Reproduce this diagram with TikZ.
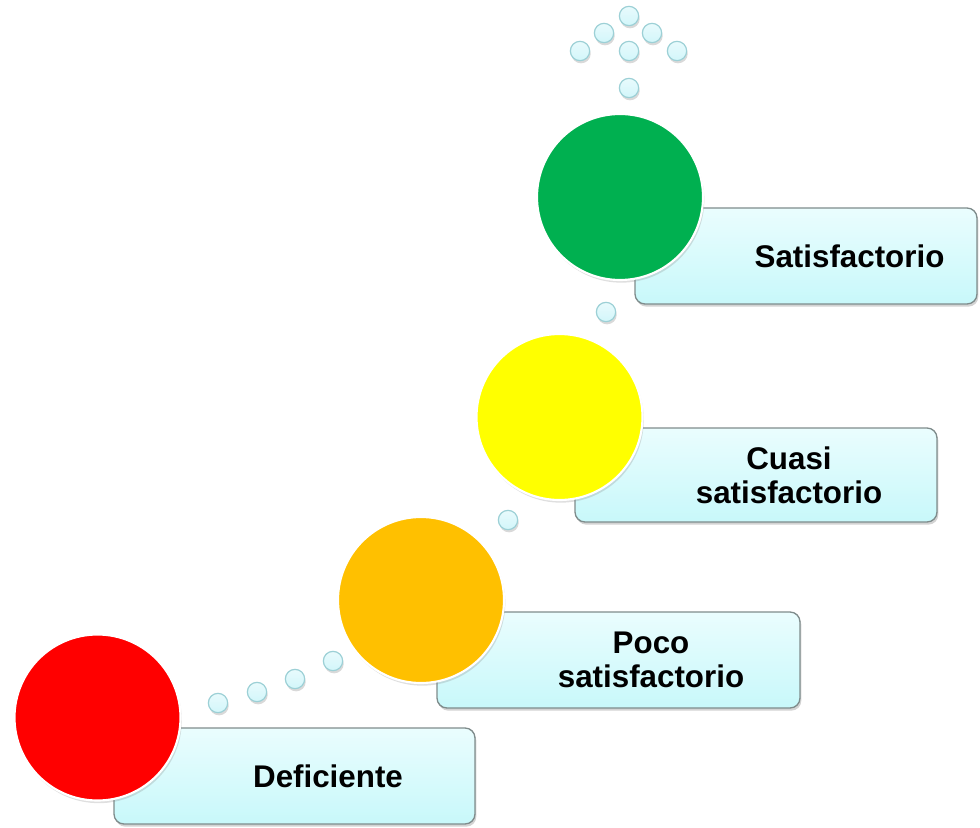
\documentclass[tikz,border=0pt]{standalone}
\usepackage{fontspec}
\setmainfont{Liberation Sans}
\usetikzlibrary{shadows}
\definecolor{cred}{HTML}{FF0000}
\definecolor{corange}{HTML}{FFC000}
\definecolor{cyellow}{HTML}{FFFF00}
\definecolor{cgreen}{HTML}{00B050}
\definecolor{boxtop}{HTML}{EAFDFE}
\definecolor{boxbot}{HTML}{C8F8FA}
\definecolor{boxline}{HTML}{7F8C8C}
\definecolor{dotfill}{HTML}{D2F6FA}
\definecolor{dotline}{HTML}{9CD0D6}
\tikzset{
  levelbox/.style={draw=boxline, line width=1pt, rounded corners=7.5pt,
    top color=boxtop, bottom color=boxbot, inner sep=0pt,
    drop shadow={opacity=0.35, shadow xshift=1pt, shadow yshift=-2pt}},
  ball/.style={circle, draw=white, line width=1.6pt, minimum size=124.5pt, inner sep=0pt,
    drop shadow={opacity=0.25, shadow xshift=1pt, shadow yshift=-2pt}},
  bead/.style={circle, draw=dotline, line width=0.9pt, minimum size=14.5pt, inner sep=0pt,
    top color=white!50!dotfill, bottom color=dotfill,
    drop shadow={opacity=0.3, shadow xshift=0.8pt, shadow yshift=-2pt}},
  lbl/.style={font=\bfseries\fontsize{23.5}{25.5}\selectfont, align=center, inner sep=0pt}
}
\begin{document}
\begin{tikzpicture}[x=0.75pt,y=-0.75pt]
\useasboundingbox (0,0) rectangle (980,827);
% boxes
\node[levelbox, minimum width=270.75pt, minimum height=72pt] (b1) at (294.5,776) {};
\node[levelbox, minimum width=272.25pt, minimum height=72pt] (b2) at (618.5,660) {};
\node[levelbox, minimum width=271.5pt, minimum height=70.5pt] (b3) at (756,475) {};
\node[levelbox, minimum width=256.5pt, minimum height=72pt] (b4) at (806,256) {};
% beads
\node[bead] (d1) at (218,703) {};
\node[bead] (d2) at (257,692) {};
\node[bead] (d3) at (295,679) {};
\node[bead] (d4) at (333,661) {};
\node[bead] (d5) at (508,520) {};
\node[bead] (d6) at (606,312) {};
\node[bead] (t1) at (629,16) {};
\node[bead] (t2) at (604,33) {};
\node[bead] (t3) at (652,33) {};
\node[bead] (t4) at (580,51) {};
\node[bead] (t5) at (629,51) {};
\node[bead] (t6) at (677,51) {};
\node[bead] (t7) at (629,88) {};
% circles
\node[ball, fill=cred] (c1) at (97.5,717.5) {};
\node[ball, fill=corange] (c2) at (421,600) {};
\node[ball, fill=cyellow] (c3) at (559.5,417) {};
\node[ball, fill=cgreen] (c4) at (620,197) {};
% labels
\node[lbl] (l1) at (328,776) {Deficiente};
\node[lbl] (l2) at (651,660) {Poco\\satisfactorio};
\node[lbl] (l3) at (789,475) {Cuasi\\satisfactorio};
\node[lbl] (l4) at (849.5,256) {Satisfactorio};
\end{tikzpicture}
\end{document}
